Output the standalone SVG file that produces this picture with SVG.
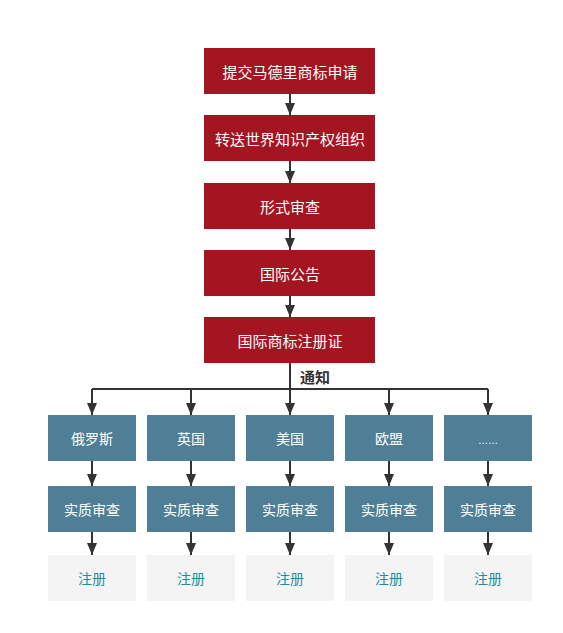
<svg xmlns="http://www.w3.org/2000/svg" width="563" height="633" viewBox="0 0 563 633">
<defs>
<style>
.r{fill:#A31521}
.b{fill:#4E7F96}
.g{fill:#F4F4F4}
text{font-family:"Noto Sans CJK SC","Noto Sans",sans-serif;text-anchor:middle;dominant-baseline:central}
.tw{fill:#fff;font-size:15px}
.ts{fill:#fff;font-size:14px}
.tg{fill:#1F8E9A;font-size:14px}
.ln{stroke:#333;stroke-width:2;fill:none}
</style>
<marker id="a" viewBox="0 0 12 10" refX="12" refY="5" markerWidth="12" markerHeight="10" orient="auto" markerUnits="userSpaceOnUse">
<path d="M0,0 L12,5 L0,10 Z" fill="#333"/>
</marker>
</defs>
<rect width="563" height="633" fill="#fff"/>
<g id="connectors">
<path class="ln" d="M290,94 V115" marker-end="url(#a)"/>
<path class="ln" d="M290,161 V183" marker-end="url(#a)"/>
<path class="ln" d="M290,229 V250" marker-end="url(#a)"/>
<path class="ln" d="M290,296 V317" marker-end="url(#a)"/>
<path class="ln" d="M290,363 V415" marker-end="url(#a)"/>
<path class="ln" d="M92,389 H488"/>
<path class="ln" d="M92,389 V415" marker-end="url(#a)"/>
<path class="ln" d="M191,389 V415" marker-end="url(#a)"/>
<path class="ln" d="M389,389 V415" marker-end="url(#a)"/>
<path class="ln" d="M488,389 V415" marker-end="url(#a)"/>
<path class="ln" d="M92,461 V486" marker-end="url(#a)"/>
<path class="ln" d="M191,461 V486" marker-end="url(#a)"/>
<path class="ln" d="M290,461 V486" marker-end="url(#a)"/>
<path class="ln" d="M389,461 V486" marker-end="url(#a)"/>
<path class="ln" d="M488,461 V486" marker-end="url(#a)"/>
<path class="ln" d="M92,532 V555" marker-end="url(#a)"/>
<path class="ln" d="M191,532 V555" marker-end="url(#a)"/>
<path class="ln" d="M290,532 V555" marker-end="url(#a)"/>
<path class="ln" d="M389,532 V555" marker-end="url(#a)"/>
<path class="ln" d="M488,532 V555" marker-end="url(#a)"/>
<text x="315" y="376" style="font-size:15px;font-weight:bold;fill:#333">通知</text>
</g>
<g id="n1"><rect class="r" x="204" y="48" width="171" height="46"/><text class="tw" x="290" y="71">提交马德里商标申请</text></g>
<g id="n2"><rect class="r" x="204" y="115" width="171" height="46"/><text class="tw" x="290" y="138">转送世界知识产权组织</text></g>
<g id="n3"><rect class="r" x="204" y="183" width="171" height="46"/><text class="tw" x="290" y="206">形式审查</text></g>
<g id="n4"><rect class="r" x="204" y="250" width="171" height="46"/><text class="tw" x="290" y="273">国际公告</text></g>
<g id="n5"><rect class="r" x="204" y="317" width="171" height="46"/><text class="tw" x="290" y="340">国际商标注册证</text></g>
<g id="c1"><rect class="b" x="48" y="415" width="88" height="46"/><text class="ts" x="92" y="438">俄罗斯</text></g>
<g id="c2"><rect class="b" x="147" y="415" width="88" height="46"/><text class="ts" x="191" y="438">英国</text></g>
<g id="c3"><rect class="b" x="246" y="415" width="88" height="46"/><text class="ts" x="290" y="438">美国</text></g>
<g id="c4"><rect class="b" x="345" y="415" width="88" height="46"/><text class="ts" x="389" y="438">欧盟</text></g>
<g id="c5"><rect class="b" x="444" y="415" width="88" height="46"/><text x="488" y="444" style="fill:#fff;font-size:10px;font-family:'Liberation Sans',sans-serif;dominant-baseline:alphabetic">……</text></g>
<g id="e1"><rect class="b" x="48" y="486" width="88" height="46"/><text class="ts" x="92" y="509">实质审查</text></g>
<g id="e2"><rect class="b" x="147" y="486" width="88" height="46"/><text class="ts" x="191" y="509">实质审查</text></g>
<g id="e3"><rect class="b" x="246" y="486" width="88" height="46"/><text class="ts" x="290" y="509">实质审查</text></g>
<g id="e4"><rect class="b" x="345" y="486" width="88" height="46"/><text class="ts" x="389" y="509">实质审查</text></g>
<g id="e5"><rect class="b" x="444" y="486" width="88" height="46"/><text class="ts" x="488" y="509">实质审查</text></g>
<g id="g1"><rect class="g" x="48" y="555" width="88" height="46"/><text class="tg" x="92" y="578">注册</text></g>
<g id="g2"><rect class="g" x="147" y="555" width="88" height="46"/><text class="tg" x="191" y="578">注册</text></g>
<g id="g3"><rect class="g" x="246" y="555" width="88" height="46"/><text class="tg" x="290" y="578">注册</text></g>
<g id="g4"><rect class="g" x="345" y="555" width="88" height="46"/><text class="tg" x="389" y="578">注册</text></g>
<g id="g5"><rect class="g" x="444" y="555" width="88" height="46"/><text class="tg" x="488" y="578">注册</text></g>
</svg>
